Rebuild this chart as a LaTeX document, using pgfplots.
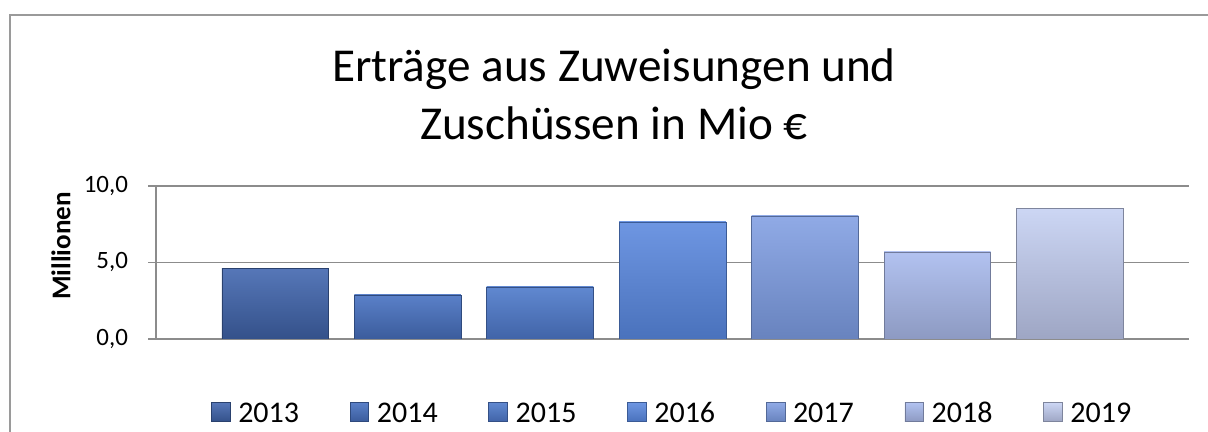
\documentclass[border=0pt]{standalone}
\usepackage{fontspec}
\setmainfont{Carlito}
\usepackage{pgfplots}
\pgfplotsset{compat=1.18}
\definecolor{gridc}{HTML}{8C8C8C}
\definecolor{frame}{HTML}{9A9A9A}
\definecolor{tA}{HTML}{5677B8}\definecolor{bA}{HTML}{34518A}
\definecolor{tB}{HTML}{5A80C8}\definecolor{bB}{HTML}{3B5C9C}
\definecolor{tC}{HTML}{6088D0}\definecolor{bC}{HTML}{4164A8}
\definecolor{tD}{HTML}{6E96E2}\definecolor{bD}{HTML}{4A72BC}
\definecolor{tE}{HTML}{90AAE6}\definecolor{bE}{HTML}{6883BE}
\definecolor{tF}{HTML}{B2C2F0}\definecolor{bF}{HTML}{8D9AC2}
\definecolor{tG}{HTML}{CCD6F4}\definecolor{bG}{HTML}{9EA6C4}
\begin{document}
\begin{tikzpicture}
\useasboundingbox (0,0) rectangle (906pt,324pt);
\fill[white] (0,0) rectangle (906pt,324pt);
\draw[frame, line width=1.5pt] (7.5pt,-10pt) -- (7.5pt,312.75pt) -- (930pt,312.75pt);
\node[anchor=base, font=\fontsize{35.4pt}{42pt}\selectfont] at (460.5pt,262.5pt) {Erträge aus Zuweisungen und};
\node[anchor=base, font=\fontsize{35.4pt}{42pt}\selectfont] at (460.5pt,219pt) {Zuschüssen in Mio €};
\node[rotate=90, font=\fontsize{20.3pt}{24pt}\selectfont\bfseries] at (45.75pt,139.5pt) {Millionen};
\begin{axis}[
  at={(117pt,69.75pt)}, anchor=south west,
  scale only axis, width=774.75pt, height=114.75pt,
  xmin=-0.9, xmax=6.9, ymin=0, ymax=10,
  axis y line=left, axis x line=bottom,
  axis line style={-, draw=gridc, line width=0.9pt},
  xtick=\empty,
  ytick={0,5,10},
  ymajorgrids, grid style={draw=gridc, line width=0.9pt},
  major tick length=6pt, tick align=outside,
  tick style={draw=gridc, line width=0.9pt},
  yticklabel style={font=\fontsize{18.7pt}{22pt}\selectfont, xshift=-11.5pt},
  /pgf/number format/.cd, fixed, fixed zerofill, precision=1, use comma, assume math mode=true,
  /pgfplots/.cd,
  ybar, bar width=80pt, bar shift=0pt,
  legend style={at={(0.5,-0.477)}, anchor=center, draw=none, fill=none,
    legend columns=7, font=\fontsize{22.5pt}{24pt}\selectfont,
    /tikz/every even column/.append style={column sep=36pt}},
  legend image code/.code={\draw[#1] (0pt,-7pt) rectangle (14pt,7pt); \path (18pt,0pt);},
]
\addplot[draw=bA!80!black, line width=0.4pt, top color=tA, bottom color=bA] coordinates {(0,4.64)};
\addlegendentry{\strut 2013}
\addplot[draw=bB!80!black, line width=0.4pt, top color=tB, bottom color=bB] coordinates {(1,2.88)};
\addlegendentry{\strut 2014}
\addplot[draw=bC!80!black, line width=0.4pt, top color=tC, bottom color=bC] coordinates {(2,3.40)};
\addlegendentry{\strut 2015}
\addplot[draw=bD!80!black, line width=0.4pt, top color=tD, bottom color=bD] coordinates {(3,7.65)};
\addlegendentry{\strut 2016}
\addplot[draw=bE!80!black, line width=0.4pt, top color=tE, bottom color=bE] coordinates {(4,8.04)};
\addlegendentry{\strut 2017}
\addplot[draw=bF!80!black, line width=0.4pt, top color=tF, bottom color=bF] coordinates {(5,5.70)};
\addlegendentry{\strut 2018}
\addplot[draw=bG!80!black, line width=0.4pt, top color=tG, bottom color=bG] coordinates {(6,8.56)};
\addlegendentry{\strut 2019}
\end{axis}
\end{tikzpicture}
\end{document}
